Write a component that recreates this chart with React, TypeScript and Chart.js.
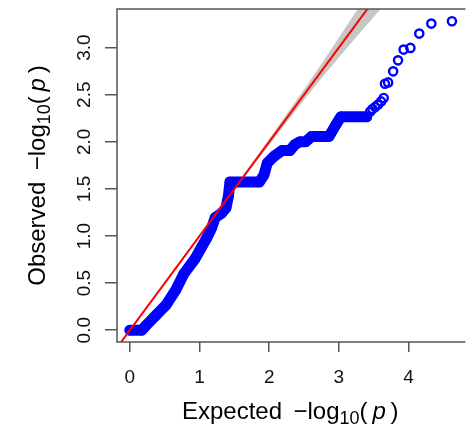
import React, { useEffect, useRef } from "react";
import { Chart, registerables } from "chart.js";

Chart.register(...registerables);

// ---- data ----
// dense part of the QQ points (overlapping circles form a thick band)
const denseX = [0.0, 0.17, 0.235, 0.376, 0.517, 0.658, 0.775, 0.939, 1.032, 1.103, 1.173, 1.225, 1.314, 1.38, 1.415, 1.437, 1.859, 1.925, 1.972, 2.066, 2.183, 2.296, 2.366, 2.441, 2.521, 2.606, 2.859, 2.958, 3.028, 3.40];
const denseY = [0.0, 0.0, 0.053, 0.16, 0.266, 0.426, 0.6, 0.763, 0.886, 0.979, 1.085, 1.197, 1.241, 1.298, 1.426, 1.574, 1.574, 1.649, 1.773, 1.844, 1.907, 1.907, 1.968, 2.0, 2.0, 2.056, 2.056, 2.181, 2.266, 2.266];
// sparse upper tail points
const tailX = [3.451, 3.483, 3.521, 3.559, 3.606, 3.644, 3.662, 3.708, 3.78, 3.85, 3.93, 4.028, 4.155, 4.328, 4.624];
const tailY = [2.322, 2.348, 2.369, 2.394, 2.429, 2.465, 2.617, 2.631, 2.748, 2.865, 2.979, 2.997, 3.149, 3.255, 3.28];
// confidence band around y = x
const ciX = [0.5, 1.0, 1.5, 2.0, 2.5, 2.75, 3.0, 3.25, 3.5, 3.75, 4.0];
const ciLower = [0.496, 0.992, 1.485, 1.97, 2.445, 2.675, 2.895, 3.113, 3.325, 3.535, 3.74];
const ciUpper = [0.504, 1.008, 1.515, 2.03, 2.555, 2.825, 3.105, 3.387, 3.675, 3.965, 4.26];
// reference line y = x
const refX = [-0.3, 3.7];
const refY = [-0.3, 3.7];
// axes
const xTicks = [0, 1, 2, 3, 4];
const yTicks = [0, 0.5, 1.0, 1.5, 2.0, 2.5, 3.0];
const xMin = -0.185;
const xMax = 4.79;
const yMin = -0.125;
const yMax = 3.41;

const FONT = '"Liberation Sans", Arial, Helvetica, sans-serif';

type Seg = { t: string; size: number; italic?: boolean; dy?: number };

function titleSegs(word: string): Seg[] {
  return [
    { t: word + " \u2009\u2212log", size: 24 },
    { t: "10", size: 18, dy: 5 },
    { t: "(\u2009", size: 24 },
    { t: "p", size: 24, italic: true },
    { t: "\u2009)", size: 24 },
  ];
}

function drawRich(ctx: CanvasRenderingContext2D, segs: Seg[], cx: number, cy: number, rot: number) {
  ctx.save();
  ctx.translate(cx, cy);
  ctx.rotate(rot);
  ctx.textAlign = "left";
  ctx.textBaseline = "alphabetic";
  ctx.fillStyle = "#000";
  let total = 0;
  const widths: number[] = [];
  for (const s of segs) {
    ctx.font = `${s.italic ? "italic " : ""}${s.size}px ${FONT}`;
    const w = ctx.measureText(s.t).width;
    widths.push(w);
    total += w;
  }
  let x = -total / 2;
  segs.forEach((s, i) => {
    ctx.font = `${s.italic ? "italic " : ""}${s.size}px ${FONT}`;
    ctx.fillText(s.t, x, s.dy || 0);
    x += widths[i];
  });
  ctx.restore();
}

const framePlugin = {
  id: "frameAndTitles",
  afterDraw(chart: any) {
    const { ctx, chartArea: a } = chart;
    ctx.save();
    ctx.strokeStyle = "#555";
    ctx.lineWidth = 1.5;
    ctx.beginPath();
    ctx.moveTo(a.right + 2, a.top);
    ctx.lineTo(a.left, a.top);
    ctx.lineTo(a.left, a.bottom);
    ctx.lineTo(a.right + 2, a.bottom);
    ctx.stroke();
    ctx.restore();
    drawRich(ctx, titleSegs("Expected"), (a.left + a.right) / 2, 419, 0);
    drawRich(ctx, titleSegs("Observed"), 45, (a.top + a.bottom) / 2, -Math.PI / 2);
  },
};

export default function App() {
  const ref = useRef<HTMLCanvasElement>(null);
  useEffect(() => {
    document.body.style.margin = "0";
    const canvas = ref.current!;
    const blue = "#0000FF";
    const chart = new Chart(canvas, {
      type: "line",
      data: {
        datasets: [
          {
            label: "ref",
            data: refX.map((x, i) => ({ x, y: refY[i] })),
            borderColor: "#FF0000",
            borderWidth: 2,
            pointRadius: 0,
            order: 0,
            clip: 0,
          } as any,
          {
            label: "tail",
            data: tailX.map((x, i) => ({ x, y: tailY[i] })),
            showLine: false,
            borderColor: blue,
            backgroundColor: "rgba(0,0,0,0)",
            pointBorderColor: blue,
            pointBackgroundColor: "rgba(0,0,0,0)",
            pointRadius: 4.1,
            pointBorderWidth: 2.4,
            order: 1,
          },
          {
            label: "dense",
            data: denseX.map((x, i) => ({ x, y: denseY[i] })),
            borderColor: blue,
            borderWidth: 11,
            borderCapStyle: "round",
            borderJoinStyle: "round",
            pointRadius: 4.1,
            pointBorderWidth: 2.4,
            pointBorderColor: blue,
            pointBackgroundColor: blue,
            tension: 0,
            order: 2,
          },
          {
            label: "ciLower",
            data: ciX.map((x, i) => ({ x, y: ciLower[i] })),
            borderWidth: 0,
            borderColor: "rgba(0,0,0,0)",
            pointRadius: 0,
            fill: false,
            order: 3,
            clip: 0,
          } as any,
          {
            label: "ciUpper",
            data: ciX.map((x, i) => ({ x, y: ciUpper[i] })),
            borderWidth: 0,
            borderColor: "rgba(0,0,0,0)",
            backgroundColor: "#C6C6C6",
            pointRadius: 0,
            fill: "-1",
            order: 3,
            clip: 0,
          } as any,
        ],
      },
      options: {
        responsive: false,
        animation: false,
        events: [],
        layout: { padding: { top: 9, left: 0, right: 0, bottom: 0 } },
        plugins: {
          legend: { display: false },
          tooltip: { enabled: false },
          title: { display: false },
        },
        scales: {
          x: {
            type: "linear",
            min: xMin,
            max: xMax,
            afterBuildTicks: (s: any) => {
              s.ticks = xTicks.map((v) => ({ value: v }));
            },
            afterFit: (s: any) => {
              s.height = 86;
              s.paddingLeft = 0;
              s.paddingRight = 0;
            },
            ticks: {
              autoSkip: false,
              maxRotation: 0,
              minRotation: 0,
              padding: 16,
              color: "#111",
              font: { family: FONT, size: 19, lineHeight: 1 },
              callback: (v: any) => String(v),
            },
            grid: {
              display: true,
              drawOnChartArea: false,
              drawTicks: true,
              tickLength: 10,
              color: "#555",
              lineWidth: 1.5,
            },
            border: { display: false },
          },
          y: {
            type: "linear",
            min: yMin,
            max: yMax,
            afterBuildTicks: (s: any) => {
              s.ticks = yTicks.map((v) => ({ value: v }));
            },
            afterFit: (s: any) => {
              s.width = 117;
              s.paddingTop = 0;
              s.paddingBottom = 0;
            },
            ticks: {
              autoSkip: false,
              minRotation: 90,
              maxRotation: 90,
              crossAlign: "center",
              padding: 7,
              color: "#111",
              font: { family: FONT, size: 19, lineHeight: 1 },
              callback: (v: any) => Number(v).toFixed(1),
            },
            grid: {
              display: true,
              drawOnChartArea: false,
              drawTicks: true,
              tickLength: 12,
              color: "#555",
              lineWidth: 1.5,
            },
            border: { display: false },
          },
        },
      } as any,
      plugins: [framePlugin],
    });
    return () => chart.destroy();
  }, []);
  return (
    <div style={{ width: 470, height: 428 }}>
      <canvas ref={ref} width={470} height={428} style={{ display: "block" }} />
    </div>
  );
}
